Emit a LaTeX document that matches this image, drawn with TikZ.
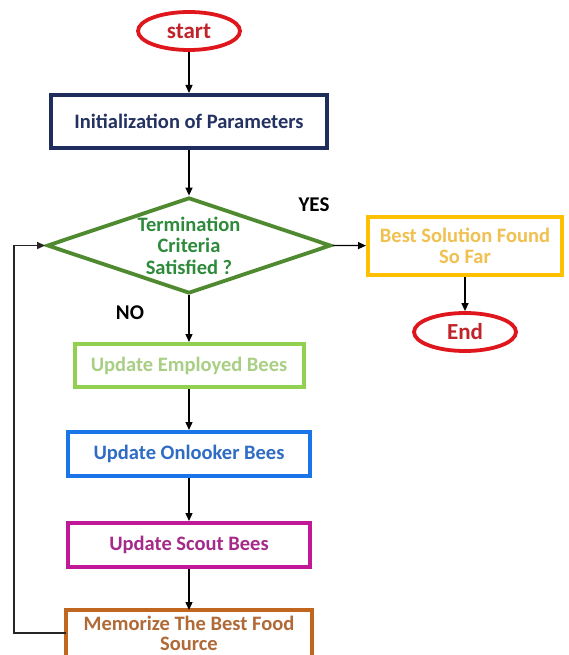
\documentclass[tikz,border=0pt]{standalone}
\usepackage{fontspec}
\setmainfont{Carlito}
\usetikzlibrary{shapes.geometric,arrows.meta}
\definecolor{cred}{HTML}{E0161D}
\definecolor{credtxt}{HTML}{C0242A}
\definecolor{cnavy}{HTML}{1F2D5C}
\definecolor{cnavytxt}{HTML}{243262}
\definecolor{cdia}{HTML}{4F8A30}
\definecolor{cdiatxt}{HTML}{2E8B3C}
\definecolor{cgold}{HTML}{FFC000}
\definecolor{cgoldtxt}{HTML}{F0C050}
\definecolor{clgreen}{HTML}{92D050}
\definecolor{clgreentxt}{HTML}{A8CF84}
\definecolor{cblue}{HTML}{1A75E8}
\definecolor{cbluetxt}{HTML}{2F6CC4}
\definecolor{cmag}{HTML}{C01896}
\definecolor{cmagtxt}{HTML}{A52A8A}
\definecolor{corange}{HTML}{C0661E}
\definecolor{corangetxt}{HTML}{B06A38}
\tikzset{
  bodyfont/.style={font=\bfseries\fontsize{20.5}{21.5}\selectfont},
  termnode/.style={ellipse, draw=cred, text=credtxt, line width=3.8pt, inner sep=0pt,
    minimum width=102pt, minimum height=38pt, font=\bfseries\fontsize{23}{25}\selectfont},
  procbox/.style={rectangle, line width=4pt, inner sep=0pt, align=center, bodyfont},
  decnode/.style={diamond, draw=cdia, text=cdiatxt, line width=3.8pt, inner sep=0pt,
    aspect=2.95, minimum width=284pt, minimum height=96pt, align=center, bodyfont},
  flow/.style={line width=1.3pt, -{Triangle[length=8pt,width=7pt]}},
  lbl/.style={font=\bfseries\fontsize{21}{23}\selectfont, text=black}
}
\begin{document}
\begin{tikzpicture}[x=1pt,y=-1pt]
\clip (0,0) rectangle (569,655);
\fill[white] (0,0) rectangle (569,655);

\node[termnode] (start) at (189,31) {start};
\node[procbox, draw=cnavy, text=cnavytxt, minimum width=276pt, minimum height=53pt] (init) at (189,121.5) {Initialization of Parameters};
\node[decnode] (dia) at (189,245.5) {Termination\\Criteria\\Satisfied ?};
\node[procbox, draw=cgold, text=cgoldtxt, minimum width=194pt, minimum height=58pt] (best) at (465,246) {Best Solution Found\\So Far};
\node[termnode] (end) at (465,332) {End};
\node[procbox, draw=clgreen, text=clgreentxt, minimum width=229pt, minimum height=43pt] (emp) at (189,365.5) {Update Employed Bees};
\node[procbox, draw=cblue, text=cbluetxt, minimum width=242pt, minimum height=44pt] (onl) at (189,454) {Update Onlooker Bees};
\node[procbox, draw=cmag, text=cmagtxt, minimum width=242pt, minimum height=44pt] (sco) at (189,545) {Update Scout Bees};
\node[procbox, text=corangetxt, minimum width=242pt, minimum height=42pt,
  font=\bfseries\fontsize{20.5}{20}\selectfont] (mem) at (189,633) {Memorize The Best Food\\Source};
\draw[corange, line width=4pt] ([yshift=-12pt]mem.south west) -- (mem.north west)
  -- (mem.north east) -- ([yshift=-12pt]mem.south east);

\node[lbl] (yes) at (314,205) {YES};
\node[lbl] (no) at (130,313) {NO};

\coordinate (loopcorner) at (14,633);

\draw[flow] (start) -- (init);
\draw[flow] (init) -- (dia.north);
\draw[flow] (dia.east) -- (best);
\draw[flow] (best) -- (end);
\draw[flow] (dia.south) -- (emp);
\draw[flow] (emp) -- (onl);
\draw[flow] (onl) -- (sco);
\draw[flow] (sco) -- (mem);
\draw[flow, draw=black!85] (mem.west) -- (loopcorner) |- (dia.west);
\end{tikzpicture}
\end{document}
